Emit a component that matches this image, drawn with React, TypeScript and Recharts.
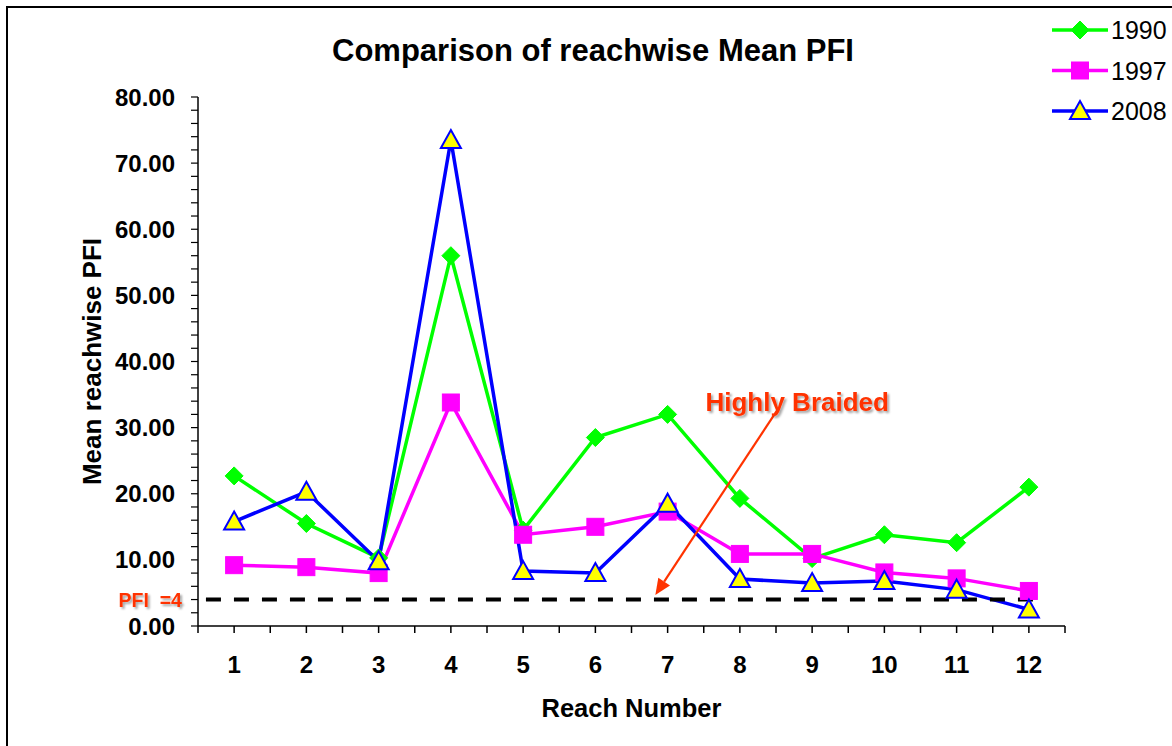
import React from 'react';
import { LineChart, Line, XAxis, YAxis, ReferenceLine, Legend } from 'recharts';

const reaches = [1, 2, 3, 4, 5, 6, 7, 8, 9, 10, 11, 12];
const pfi1990 = [22.7, 15.5, 10.3, 56.0, 14.5, 28.5, 32.0, 19.3, 10.2, 13.8, 12.6, 21.0];
const pfi1997 = [9.2, 8.9, 8.0, 33.8, 13.8, 15.0, 17.3, 10.9, 10.9, 8.1, 7.2, 5.3];
const pfi2008 = [15.8, 20.3, 9.8, 73.5, 8.3, 8.0, 18.5, 7.1, 6.5, 6.8, 5.5, 2.5];
const yTicks = Array.from({ length: 41 }, (_, i) => i * 2);
const xTicks = Array.from({ length: 25 }, (_, i) => 0.5 + i * 0.5);
const thresholdValue = 4;
const thresholdSpan = [0.61, 12.09];
const arrowFrom = { x: 8.52, y: 32.7 };
const arrowTo = { x: 6.83, y: 4.7 };

const data = reaches.map((r, i) => ({ reach: r, y1990: pfi1990[i], y1997: pfi1997[i], y2008: pfi2008[i] }));

const FONT = "Arial, 'Liberation Sans', sans-serif";
const GREEN = '#00FF00';
const MAGENTA = '#FF00FF';
const BLUE = '#0000FF';
const YELLOW = '#FFFF00';
const RED = '#FF3300';

const Diamond = ({ cx, cy, s = 9 }: any) => (
  <polygon points={`${cx},${cy - s} ${cx + s},${cy} ${cx},${cy + s} ${cx - s},${cy}`} fill={GREEN} stroke={GREEN} strokeWidth={1} />
);
const Square = ({ cx, cy, s = 8.5 }: any) => (
  <rect x={cx - s} y={cy - s} width={2 * s} height={2 * s} fill={MAGENTA} stroke={MAGENTA} strokeWidth={1} />
);
const Triangle = ({ cx, cy }: any) => (
  <polygon points={`${cx},${cy - 10} ${cx + 10},${cy + 8} ${cx - 10},${cy + 8}`} fill={YELLOW} stroke={BLUE} strokeWidth={2} />
);

const shadowFilter = (
  <defs>
    <filter id="txtShadow" x="-10%" y="-30%" width="130%" height="170%">
      <feDropShadow dx="2" dy="2" stdDeviation="1.2" floodColor="#000" floodOpacity="0.35" />
    </filter>
  </defs>
);

const LegendContent = () => {
  const rows = [
    { name: '1990', color: GREEN, M: Diamond },
    { name: '1997', color: MAGENTA, M: Square },
    { name: '2008', color: BLUE, M: Triangle },
  ];
  return (
    <svg width={124} height={125}>
      {rows.map((r, i) => {
        const y = 20 + i * 40.5;
        const M = r.M;
        return (
          <g key={r.name}>
            <line x1={4} x2={60} y1={y} y2={y} stroke={r.color} strokeWidth={3.5} />
            <M cx={32} cy={y} />
            <text x={63} y={y + 9} fontFamily={FONT} fontSize={25} fill="#000">{r.name}</text>
          </g>
        );
      })}
    </svg>
  );
};

export default function App() {
  return (
    <div style={{ position: 'absolute', left: 0, top: 0, width: 1172, height: 746, background: '#fff', overflow: 'hidden' }}>
      <div style={{ position: 'absolute', left: 6, top: 6, width: 1200, height: 800, borderLeft: '2px solid #000', borderTop: '2px solid #000' }} />
      <div style={{ position: 'absolute', left: 0, top: 33, width: 1186, textAlign: 'center', fontFamily: FONT, fontWeight: 'bold', fontSize: 31, color: '#000', lineHeight: '36px' }}>
        Comparison of reachwise Mean PFI
      </div>
      <LineChart width={1172} height={746} data={data} margin={{ top: 97, right: 107, bottom: 0, left: 0 }} style={{ position: 'absolute', left: 0, top: 0 }}>
        <XAxis
          dataKey="reach"
          type="number"
          domain={[0.5, 12.5]}
          ticks={xTicks}
          interval={0}
          height={120}
          allowDataOverflow
          stroke="#000"
          strokeWidth={1.5}
          tickSize={7}
          tickMargin={20}
          tickLine={{ stroke: '#000', strokeWidth: 1.5 }}
          tick={(p: any) => {
            const v = p.payload.value;
            if (!Number.isInteger(v)) return <g />;
            return (
              <text x={p.x} y={p.y} dy={20} textAnchor="middle" fontFamily={FONT} fontWeight="bold" fontSize={24} fill="#000">{v}</text>
            );
          }}
          label={{
            content: (props: any) => {
              const vb = props.viewBox;
              return (
                <text x={vb.x + vb.width / 2} y={vb.y + 91} textAnchor="middle" fontFamily={FONT} fontWeight="bold" fontSize={25.5} fill="#000">Reach Number</text>
              );
            },
          }}
        />
        <YAxis
          type="number"
          domain={[0, 80]}
          ticks={yTicks}
          interval={0}
          width={198}
          stroke="#000"
          strokeWidth={1.5}
          tickSize={7}
          tickMargin={16}
          tickLine={{ stroke: '#000', strokeWidth: 1.2 }}
          tick={(p: any) => {
            const v = p.payload.value;
            if (v % 10 !== 0) return <g />;
            return (
              <text x={p.x} y={p.y} dy={8.5} textAnchor="end" fontFamily={FONT} fontWeight="bold" fontSize={24} fill="#000">{v.toFixed(2)}</text>
            );
          }}
          label={{
            content: (props: any) => {
              const vb = props.viewBox;
              const cx = 92;
              const cy = vb.y + vb.height / 2;
              return (
                <text x={cx} y={cy} transform={`rotate(-90, ${cx}, ${cy})`} dy={9} textAnchor="middle" fontFamily={FONT} fontWeight="bold" fontSize={26} fill="#000">Mean reachwise PFI</text>
              );
            },
          }}
        />
        <Legend
          layout="vertical"
          align="center"
          verticalAlign="middle"
          wrapperStyle={{ position: 'absolute', left: 1048, top: 10, width: 124 }}
          content={() => <LegendContent />}
        />
        <Line
          dataKey="y1990"
          name="1990"
          stroke={GREEN}
          strokeWidth={3.5}
          isAnimationActive={false}
          dot={(p: any) => <Diamond key={`d${p.index}`} cx={p.cx} cy={p.cy} />}
        />
        <Line
          dataKey="y1997"
          name="1997"
          stroke={MAGENTA}
          strokeWidth={3.5}
          isAnimationActive={false}
          dot={(p: any) => <Square key={`s${p.index}`} cx={p.cx} cy={p.cy} />}
        />
        <Line
          dataKey="y2008"
          name="2008"
          stroke={BLUE}
          strokeWidth={3.5}
          isAnimationActive={false}
          dot={(p: any) => <Triangle key={`t${p.index}`} cx={p.cx} cy={p.cy} />}
        />
        <ReferenceLine
          segment={[{ x: thresholdSpan[0], y: thresholdValue }, { x: thresholdSpan[1], y: thresholdValue }]}
          ifOverflow="visible"
          shape={(p: any) => (
            <g>
              {shadowFilter}
              <line x1={p.x1} y1={p.y1} x2={p.x2} y2={p.y2} stroke="#000" strokeWidth={4} strokeDasharray="15 13" />
              <text x={p.x1 - 24} y={p.y1 + 7} textAnchor="end" fontFamily={FONT} fontWeight="bold" fontSize={19.5} fill={RED} filter="url(#txtShadow)" xmlSpace="preserve">PFI  =4</text>
            </g>
          )}
        />
        <ReferenceLine
          segment={[arrowFrom, arrowTo]}
          ifOverflow="visible"
          shape={(p: any) => {
            const dx = p.x2 - p.x1;
            const dy = p.y2 - p.y1;
            const len = Math.sqrt(dx * dx + dy * dy);
            const ux = dx / len;
            const uy = dy / len;
            const hl = 16;
            const hw = 7;
            const bx = p.x2 - ux * hl;
            const by = p.y2 - uy * hl;
            return (
              <g>
                <line x1={p.x1} y1={p.y1} x2={bx} y2={by} stroke={RED} strokeWidth={2.2} />
                <polygon points={`${p.x2},${p.y2} ${bx - uy * hw},${by + ux * hw} ${bx + uy * hw},${by - ux * hw}`} fill={RED} />
                <text x={p.x1 - 72} y={p.y1 + 1} fontFamily={FONT} fontWeight="bold" fontSize={26} fill={RED} filter="url(#txtShadow)">Highly Braided</text>
              </g>
            );
          }}
        />
      </LineChart>
    </div>
  );
}
